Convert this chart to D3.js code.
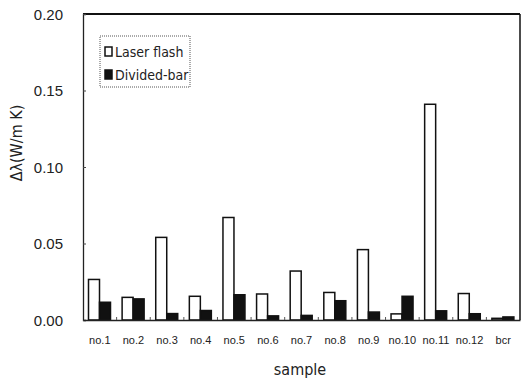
<!DOCTYPE html>
<html>
<head>
<meta charset="utf-8">
<script src="https://cdn.jsdelivr.net/npm/d3@7"></script>
<style>
  body { margin: 0; background: #fff; }
  svg { font-family: "DejaVu Sans Condensed", "Liberation Sans Narrow", sans-serif; font-stretch: condensed; }
</style>
</head>
<body>
<div id="chart"></div>
<script>
const samples = ["no.1", "no.2", "no.3", "no.4", "no.5", "no.6", "no.7", "no.8", "no.9", "no.10", "no.11", "no.12", "bcr"];
const laserFlash = [0.0265, 0.0148, 0.054, 0.0155, 0.067, 0.017, 0.032, 0.018, 0.046, 0.004, 0.141, 0.0173, 0.0011];
const dividedBar = [0.0116, 0.0138, 0.0042, 0.0062, 0.0165, 0.0027, 0.003, 0.0126, 0.0052, 0.0155, 0.006, 0.0041, 0.002];
const seriesNames = ["Laser flash", "Divided-bar"];
const yTicks = [0, 0.05, 0.10, 0.15, 0.20];

const width = 523, height = 380;
const plotLeft = 83, plotRight = 520, plotTop = 14, plotBottom = 320;

const svg = d3.select("#chart")
  .append("svg")
  .attr("width", width)
  .attr("height", height);

const x = d3.scaleBand().domain(samples).range([plotLeft, plotRight]).padding(0);
const inner = d3.scaleBand().domain(seriesNames).range([5.5, 27.5]);
const y = d3.scaleLinear().domain([0, 0.2]).range([plotBottom, plotTop]);

const rows = samples.map((s, i) => ({ sample: s, values: [laserFlash[i], dividedBar[i]] }));

// bars
const groups = svg.selectAll("g.grp")
  .data(rows)
  .enter()
  .append("g")
  .attr("class", "grp")
  .attr("transform", d => `translate(${x(d.sample)},0)`);

groups.selectAll("rect")
  .data(d => d.values.map((v, k) => ({ name: seriesNames[k], value: v })))
  .enter()
  .append("rect")
  .attr("x", d => inner(d.name))
  .attr("y", d => y(d.value))
  .attr("width", inner.bandwidth())
  .attr("height", d => plotBottom - y(d.value))
  .attr("fill", d => d.name === "Laser flash" ? "#fff" : "#111")
  .attr("stroke", "#111")
  .attr("stroke-width", 1.5);

// frame
svg.append("line").attr("x1", plotLeft).attr("x2", plotRight).attr("y1", plotTop).attr("y2", plotTop)
  .attr("stroke", "#111").attr("stroke-width", 2);
svg.append("line").attr("x1", plotRight).attr("x2", plotRight).attr("y1", plotTop).attr("y2", plotBottom)
  .attr("stroke", "#111").attr("stroke-width", 1.5);

// y axis
const yAxis = svg.append("g")
  .attr("transform", `translate(${plotLeft},0)`)
  .call(d3.axisLeft(y).tickValues(yTicks).tickFormat(d3.format(".2f")).tickSize(-3).tickPadding(20));
yAxis.select(".domain").attr("stroke", "#222").attr("stroke-width", 1.3);
yAxis.selectAll(".tick line").attr("stroke", "#444");
yAxis.selectAll("text").attr("font-size", 15).attr("fill", "#222").attr("dy", "0.36em");

// x axis
const xAxis = svg.append("g")
  .attr("transform", `translate(0,${plotBottom})`)
  .call(d3.axisBottom(x).tickSize(0).tickPadding(16));
xAxis.select(".domain").attr("stroke", "#222").attr("stroke-width", 1.5);
xAxis.selectAll("text").attr("font-size", 11).attr("fill", "#222");

// small ticks at group boundaries
svg.selectAll("line.sep")
  .data(samples.slice(1))
  .enter()
  .append("line")
  .attr("class", "sep")
  .attr("x1", d => x(d)).attr("x2", d => x(d))
  .attr("y1", plotBottom).attr("y2", plotBottom - 3)
  .attr("stroke", "#555");

// axis titles
svg.append("text")
  .attr("transform", `translate(22,143) rotate(-90)`)
  .attr("text-anchor", "middle")
  .attr("font-size", 16)
  .attr("fill", "#222")
  .text("Δλ(W/m K)");

svg.append("text")
  .attr("x", 300).attr("y", 375)
  .attr("text-anchor", "middle")
  .attr("font-size", 16)
  .attr("fill", "#222")
  .text("sample");

// legend
const legend = svg.append("g").attr("transform", "translate(100,36)");
legend.append("rect")
  .attr("width", 90).attr("height", 51)
  .attr("fill", "none").attr("stroke", "#555")
  .attr("stroke-dasharray", "1,1");
const items = legend.selectAll("g.item")
  .data(seriesNames)
  .enter()
  .append("g")
  .attr("class", "item")
  .attr("transform", (d, i) => `translate(5,${16 + i * 23})`);
items.append("rect")
  .attr("x", 0).attr("y", -5)
  .attr("width", 7).attr("height", 9)
  .attr("fill", d => d === "Laser flash" ? "#fff" : "#111")
  .attr("stroke", "#111").attr("stroke-width", 1.5);
items.append("text")
  .attr("x", 10).attr("dy", "0.36em")
  .attr("font-size", 14)
  .attr("fill", "#222")
  .text(d => d);
</script>
</body>
</html>
